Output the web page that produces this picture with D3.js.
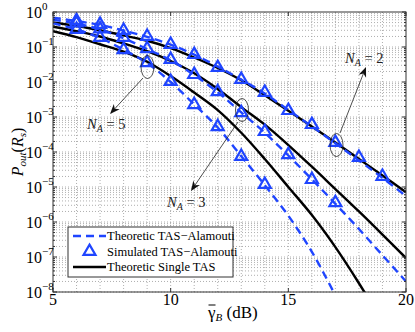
<!DOCTYPE html>
<html>
<head>
<meta charset="utf-8">
<script src="https://cdn.jsdelivr.net/npm/d3@7"></script>
<style>
  body { margin: 0; background: #fff; }
  svg { display: block; font-family: 'Liberation Serif', 'Times New Roman', serif; }
</style>
</head>
<body>
<div id="chart"></div>
<script>
// SNR grid (dB)
const snr = [5, 6, 7, 8, 9, 10, 11, 12, 13, 14, 15, 16, 17, 18, 19, 20];

// theoretic TAS-Alamouti (dashed)
const alamouti2 = [0.692, 0.550, 0.427, 0.295, 0.195, 0.117, 0.0603, 0.0275, 0.0117, 4.68e-3, 1.58e-3, 5.37e-4, 1.78e-4, 5.75e-5, 1.82e-5, 5.5e-6];
const alamouti3 = [0.603, 0.468, 0.316, 0.178, 0.0871, 0.0417, 0.0158, 5.13e-3, 1.35e-3, 3.55e-4, 7.94e-5, 1.66e-5, 3.31e-6, 6.31e-7, 1.12e-7, 2.0e-8];
const alamouti5 = [0.479, 0.316, 0.182, 0.0832, 0.0347, 0.01, 2.29e-3, 5.01e-4, 7.59e-5, 1.12e-5, 1.51e-6, 1.41e-7, 7.94e-9];

// theoretic single TAS (solid)
const single2 = [0.501, 0.398, 0.302, 0.214, 0.151, 0.0933, 0.0501, 0.0251, 0.0112, 4.17e-3, 1.51e-3, 5.37e-4, 1.86e-4, 6.31e-5, 2.14e-5, 7.08e-6];
const single3 = [0.380, 0.282, 0.200, 0.126, 0.0759, 0.0398, 0.0178, 6.31e-3, 1.91e-3, 6.03e-4, 1.58e-4, 3.80e-5, 8.71e-6, 2.0e-6, 4.37e-7, 9.33e-8];
const single5 = [0.282, 0.191, 0.120, 0.0741, 0.0380, 0.0148, 5.01e-3, 1.58e-3, 3.55e-4, 6.31e-5, 1.0e-5, 1.58e-6, 1.91e-7, 1.78e-8, 1.41e-9];

// simulated TAS-Alamouti (triangles)
const simSnr2 = [6, 7, 8, 9, 10, 11, 12, 13, 14, 15, 16, 17, 18, 19];
const sim2 = [0.550, 0.427, 0.288, 0.195, 0.115, 0.0589, 0.0251, 0.0115, 4.9e-3, 1.48e-3, 5.89e-4, 1.82e-4, 6.76e-5, 1.95e-5];
const simSnr3 = [6, 7, 8, 9, 10, 11, 12, 13, 14, 15, 16, 17];
const sim3 = [0.468, 0.316, 0.182, 0.0871, 0.0427, 0.0158, 5.13e-3, 1.29e-3, 3.72e-4, 8.13e-5, 1.58e-5, 3.47e-6];
const simSnr5 = [6, 7, 8, 9, 10, 11, 12, 13, 14];
const sim5 = [0.309, 0.182, 0.0813, 0.0347, 0.01, 2.19e-3, 5.13e-4, 7.24e-5, 1.15e-5];

const xTicks = [5, 10, 15, 20];
const yExponents = [0, -1, -2, -3, -4, -5, -6, -7, -8];
const legendLabels = ["Theoretic TAS\u2212Alamouti", "Simulated TAS\u2212Alamouti", "Theoretic Single TAS"];

const blue = "#1f45ff";
const W = 415, H = 332;
const margin = { top: 12, right: 9, bottom: 40, left: 53 };

const svg = d3.select("#chart").append("svg")
    .attr("width", W)
    .attr("height", H);

const x = d3.scaleLinear().domain([5, 20]).range([margin.left, W - margin.right]);
const y = d3.scaleLog().domain([1e-8, 1]).range([H - margin.bottom, margin.top]);

const [x0, x1] = x.range();
const [y0, y1] = [y(1), y(1e-8)];

// grid
const grid = svg.append("g").attr("stroke", "#9a9a9a").attr("stroke-width", 0.8).attr("stroke-dasharray", "1,2");
d3.range(6, 20).forEach(v => {
    grid.append("line").attr("x1", x(v)).attr("x2", x(v)).attr("y1", y0).attr("y2", y1);
});
yExponents.forEach(e => {
    for (let m = 1; m < 10; m++) {
        const v = m * Math.pow(10, e - 1);
        if (v < 1e-8 || v >= 1) continue;
        grid.append("line").attr("x1", x0).attr("x2", x1).attr("y1", y(v)).attr("y2", y(v));
    }
});

svg.append("clipPath").attr("id", "plot-clip")
    .append("rect").attr("x", x0).attr("y", y0).attr("width", x1 - x0).attr("height", y1 - y0);

const plot = svg.append("g").attr("clip-path", "url(#plot-clip)");

const line = d3.line()
    .x(d => x(d[0]))
    .y(d => y(d[1]))
    .curve(d3.curveCatmullRom);

const zipped = (xs, ys) => ys.map((v, i) => [xs[i], v]);

[single2, single3, single5].forEach(s => {
    plot.append("path")
        .datum(zipped(snr, s))
        .attr("fill", "none")
        .attr("stroke", "#000")
        .attr("stroke-width", 2.4)
        .attr("d", line);
});

[alamouti2, alamouti3, alamouti5].forEach(s => {
    plot.append("path")
        .datum(zipped(snr, s))
        .attr("fill", "none")
        .attr("stroke", blue)
        .attr("stroke-width", 2.4)
        .attr("stroke-dasharray", "8,5")
        .attr("d", line);
});

const tri = d3.symbol().type(d3.symbolTriangle).size(62);
[[simSnr2, sim2], [simSnr3, sim3], [simSnr5, sim5]].forEach(([xs, ys]) => {
    plot.selectAll(null)
        .data(zipped(xs, ys))
        .enter().append("path")
        .attr("transform", d => `translate(${x(d[0])},${y(d[1]) - 0.5})`)
        .attr("d", tri)
        .attr("fill", "none")
        .attr("stroke", blue)
        .attr("stroke-width", 2.2);
});

// frame and ticks
const axisG = svg.append("g").attr("stroke", "#333").attr("stroke-width", 1);
axisG.append("rect").attr("x", x0).attr("y", y0).attr("width", x1 - x0).attr("height", y1 - y0).attr("fill", "none");
xTicks.forEach(v => {
    axisG.append("line").attr("x1", x(v)).attr("x2", x(v)).attr("y1", y1).attr("y2", y1 - 4);
    axisG.append("line").attr("x1", x(v)).attr("x2", x(v)).attr("y1", y0).attr("y2", y0 + 4);
});
yExponents.forEach(e => {
    const yy = y(Math.pow(10, e));
    axisG.append("line").attr("x1", x0).attr("x2", x0 + 4).attr("y1", yy).attr("y2", yy);
    axisG.append("line").attr("x1", x1).attr("x2", x1 - 4).attr("y1", yy).attr("y2", yy);
    if (e > -8) {
        for (let m = 2; m < 10; m++) {
            const ym = y(m * Math.pow(10, e - 1));
            axisG.append("line").attr("x1", x0).attr("x2", x0 + 2).attr("y1", ym).attr("y2", ym);
            axisG.append("line").attr("x1", x1).attr("x2", x1 - 2).attr("y1", ym).attr("y2", ym);
        }
    }
});

// tick labels
svg.append("g").selectAll("text")
    .data(xTicks).enter().append("text")
    .attr("x", d => x(d))
    .attr("y", y1 + 13)
    .attr("text-anchor", "middle")
    .style("font-size", "16px")
    .text(d => d);

const yl = svg.append("g").selectAll("text")
    .data(yExponents).enter().append("text")
    .attr("x", 26)
    .attr("y", d => y(Math.pow(10, d)) + 6)
    .style("font-size", "16px");
yl.append("tspan").text("10");
yl.append("tspan").attr("dy", -8).style("font-size", "11px")
    .text(d => d === 0 ? "0" : "\u2212" + Math.abs(d));

// axis labels
const xl = svg.append("text")
    .attr("x", 208)
    .attr("y", 318)
    .style("font-size", "17px");
const gam = xl.append("tspan").text("\u03b3");
xl.append("tspan").attr("dy", 3).style("font-size", "11px").style("font-style", "italic").text("B");
xl.append("tspan").attr("dy", -3).text(" (dB)");
const gw = xl.node().getSubStringLength(0, 1);
svg.append("line").attr("x1", 208.5).attr("x2", 208 + gw).attr("y1", 305).attr("y2", 305)
    .attr("stroke", "#000").attr("stroke-width", 1);

const ylab = svg.append("text")
    .attr("transform", `translate(23,152) rotate(-90)`)
    .attr("text-anchor", "middle")
    .style("font-size", "16px");
ylab.append("tspan").style("font-style", "italic").text("P");
ylab.append("tspan").attr("dy", 3).style("font-size", "11px").style("font-style", "italic").text("out");
ylab.append("tspan").attr("dy", -3).text("(");
ylab.append("tspan").style("font-style", "italic").text("R");
ylab.append("tspan").attr("dy", 3).style("font-size", "11px").style("font-style", "italic").text("s");
ylab.append("tspan").attr("dy", -3).text(")");

// annotations: ellipses, arrows, labels
const annots = [
    { n: 5, cx: 147.5, cy: 67, tail: [143, 78], head: [110, 114], tx: 87, ty: 129 },
    { n: 3, cx: 242, cy: 110, tail: [238, 122], head: [191, 191], tx: 167, ty: 207 },
    { n: 2, cx: 336.5, cy: 145, tail: [340, 133], head: [366, 67], tx: 345, ty: 63 }
];
const ann = svg.append("g");
annots.forEach(a => {
    ann.append("ellipse").attr("cx", a.cx).attr("cy", a.cy).attr("rx", 6.5).attr("ry", 11.5)
        .attr("fill", "none").attr("stroke", "#222").attr("stroke-width", 0.8);
    const [tx0, ty0] = a.tail, [hx, hy] = a.head;
    const ang = Math.atan2(hy - ty0, hx - tx0);
    const L = 10, Wd = 4;
    const bx = hx - L * Math.cos(ang), by = hy - L * Math.sin(ang);
    const mx = hx - 0.7 * L * Math.cos(ang), my = hy - 0.7 * L * Math.sin(ang);
    ann.append("line").attr("x1", tx0).attr("y1", ty0).attr("x2", mx).attr("y2", my)
        .attr("stroke", "#222").attr("stroke-width", 0.8);
    const px = -Math.sin(ang), py = Math.cos(ang);
    ann.append("path")
        .attr("d", `M${hx},${hy}L${bx + Wd * px},${by + Wd * py}L${mx},${my}L${bx - Wd * px},${by - Wd * py}Z`)
        .attr("fill", "#111");
    const t = ann.append("text").attr("x", a.tx).attr("y", a.ty).style("font-size", "14.5px").attr("fill", "#222");
    t.append("tspan").style("font-style", "italic").text("N");
    t.append("tspan").attr("dy", 3).style("font-size", "10px").style("font-style", "italic").text("A");
    t.append("tspan").attr("dy", -3).text(" = " + a.n);
});

// legend
const lg = svg.append("g");
lg.append("rect").attr("x", 68).attr("y", 227).attr("width", 165).attr("height", 50)
    .attr("fill", "#fff").attr("stroke", "#333").attr("stroke-width", 1);
const rows = [236, 252, 267];
lg.append("line").attr("x1", 73).attr("x2", 106).attr("y1", rows[0]).attr("y2", rows[0])
    .attr("stroke", blue).attr("stroke-width", 2.4).attr("stroke-dasharray", "8,5");
lg.append("path").attr("transform", `translate(89.5,${rows[1] - 0.5})`).attr("d", tri)
    .attr("fill", "none").attr("stroke", blue).attr("stroke-width", 2.2);
lg.append("line").attr("x1", 73).attr("x2", 106).attr("y1", rows[2]).attr("y2", rows[2])
    .attr("stroke", "#000").attr("stroke-width", 2.4);
lg.selectAll("text.lab").data(legendLabels).enter().append("text")
    .attr("x", 107)
    .attr("y", (d, i) => rows[i] + 4)
    .style("font-size", "12.5px")
    .text(d => d);
</script>
</body>
</html>
